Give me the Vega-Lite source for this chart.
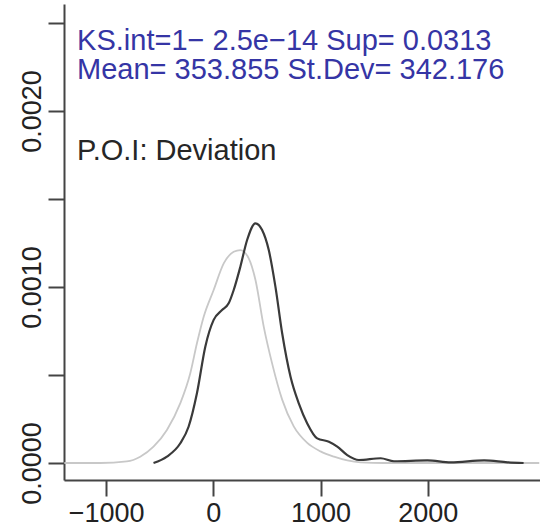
{
  "$schema": "https://vega.github.io/schema/vega-lite/v6.json",
  "width": 476,
  "height": 476,
  "autosize": "none",
  "padding": {"left": 64, "top": 4, "right": 0, "bottom": 48},
  "background": "white",
  "config": {
    "view": {"stroke": null},
    "font": "Liberation Sans",
    "axis": {"grid": false, "domainColor": "#444", "domainWidth": 2, "tickColor": "#444", "tickWidth": 2, "tickSize": 16, "labelFont": "Liberation Sans", "labelFontSize": 27, "labelColor": "#222", "title": null}
  },
  "datasets": {
    "fit": [
      {"x": -1390, "y": 0}, {"x": -1056, "y": 0}, {"x": -807, "y": 0.000009}, {"x": -682, "y": 0.000036},
      {"x": -558, "y": 0.000093}, {"x": -433, "y": 0.000188}, {"x": -308, "y": 0.00034}, {"x": -215, "y": 0.00051},
      {"x": -153, "y": 0.00068}, {"x": -90, "y": 0.000831}, {"x": 3, "y": 0.000983}, {"x": 97, "y": 0.001134},
      {"x": 190, "y": 0.0012}, {"x": 252, "y": 0.00121}, {"x": 330, "y": 0.001163}, {"x": 393, "y": 0.00104},
      {"x": 470, "y": 0.000775}, {"x": 548, "y": 0.000566}, {"x": 642, "y": 0.00036}, {"x": 750, "y": 0.000208},
      {"x": 876, "y": 0.000114}, {"x": 1000, "y": 0.000066}, {"x": 1125, "y": 0.000036}, {"x": 1249, "y": 0.000015},
      {"x": 1374, "y": 0.000004}, {"x": 1592, "y": 0}, {"x": 3040, "y": 0}
    ],
    "obs": [
      {"x": -558, "y": 0}, {"x": -433, "y": 0.000036}, {"x": -308, "y": 0.000112}, {"x": -231, "y": 0.000206},
      {"x": -153, "y": 0.000396}, {"x": -75, "y": 0.000661}, {"x": 3, "y": 0.000813}, {"x": 81, "y": 0.000869},
      {"x": 143, "y": 0.000907}, {"x": 190, "y": 0.000983}, {"x": 252, "y": 0.001115}, {"x": 315, "y": 0.001267},
      {"x": 393, "y": 0.001362}, {"x": 455, "y": 0.001324}, {"x": 517, "y": 0.00121}, {"x": 579, "y": 0.001002},
      {"x": 642, "y": 0.000737}, {"x": 720, "y": 0.00049}, {"x": 797, "y": 0.000339}, {"x": 876, "y": 0.000225},
      {"x": 969, "y": 0.00014}, {"x": 1078, "y": 0.000121}, {"x": 1156, "y": 0.000093}, {"x": 1249, "y": 0.000045},
      {"x": 1358, "y": 0.000017}, {"x": 1561, "y": 0.000027}, {"x": 1685, "y": 0.00001}, {"x": 1997, "y": 0.000015},
      {"x": 2215, "y": 0.000004}, {"x": 2526, "y": 0.000015}, {"x": 2745, "y": 0.000004}, {"x": 2894, "y": 0}
    ],
    "notes": [
      {"x": -1271, "y": 0.002347, "label": "KS.int=1− 2.5e−14 Sup= 0.0313", "kind": "blue"},
      {"x": -1271, "y": 0.002182, "label": "Mean= 353.855 St.Dev= 342.176", "kind": "blue"},
      {"x": -1271, "y": 0.001722, "label": "P.O.I: Deviation", "kind": "black"}
    ]
  },
  "layer": [
    {
      "mark": {"type": "rule", "color": "#b5b5b5", "strokeWidth": 1.5},
      "encoding": {
        "y": {"datum": 0, "type": "quantitative", "scale": {"domain": [-0.0000966, 0.002608], "nice": false, "zero": false},
          "axis": {"values": [0, 0.0005, 0.001, 0.0015, 0.002, 0.0025], "labelExpr": "round(datum.value*10000) % 10 == 0 ? format(datum.value, '.4f') : ''", "labelAngle": 270, "labelAlign": "center", "labelBaseline": "bottom", "labelPadding": 2}}
      }
    },
    {
      "mark": {"type": "rule", "color": "#444", "strokeWidth": 2},
      "encoding": {"y": {"datum": 0.002608, "type": "quantitative"}}
    },
    {
      "data": {"name": "fit"},
      "mark": {"type": "line", "color": "#c8c8c8", "strokeWidth": 1.8, "interpolate": "monotone", "clip": true},
      "encoding": {
        "x": {"field": "x", "type": "quantitative", "scale": {"domain": [-1393, 3047], "nice": false, "zero": false},
          "axis": {"values": [-1000, 0, 1000, 2000], "format": "d", "labelExpr": "replace(datum.label, '-', '−')", "labelPadding": 4}},
        "y": {"field": "y", "type": "quantitative"}
      }
    },
    {
      "data": {"name": "obs"},
      "mark": {"type": "line", "color": "#3a3a3a", "strokeWidth": 2.2, "interpolate": "monotone", "clip": true},
      "encoding": {
        "x": {"field": "x", "type": "quantitative"},
        "y": {"field": "y", "type": "quantitative"}
      }
    },
    {
      "data": {"name": "notes"},
      "mark": {"type": "text", "align": "left", "baseline": "alphabetic", "fontSize": 29, "font": "Liberation Sans"},
      "encoding": {
        "x": {"field": "x", "type": "quantitative"},
        "y": {"field": "y", "type": "quantitative"},
        "text": {"field": "label"},
        "color": {"field": "kind", "type": "nominal", "scale": {"domain": ["blue", "black"], "range": ["#3535a5", "#262626"]}, "legend": null}
      }
    }
  ]
}
